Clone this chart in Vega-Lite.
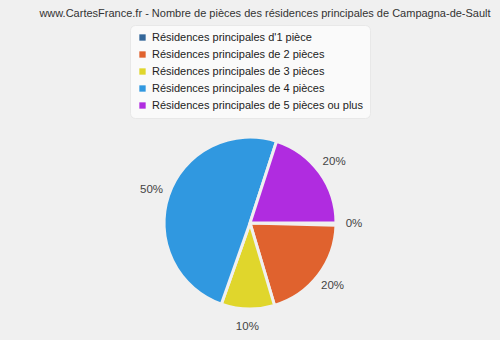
{
  "$schema": "https://vega.github.io/schema/vega-lite/v6.json",
  "width": 500,
  "height": 340,
  "autosize": {"type": "fit", "contains": "padding"},
  "padding": {"left": 5, "right": 5, "top": 7, "bottom": 16},
  "background": "#f0f0f0",
  "title": {
    "text": "www.CartesFrance.fr - Nombre de pièces des résidences principales de Campagna-de-Sault",
    "font": "Liberation Sans",
    "fontSize": 11,
    "fontWeight": "normal",
    "color": "#333333",
    "anchor": "middle",
    "dx": 15,
    "offset": 6
  },
  "data": {
    "values": [
      {"categorie": "Résidences principales d'1 pièce", "nombre": 1, "label": "0%"},
      {"categorie": "Résidences principales de 2 pièces", "nombre": 50, "label": "20%"},
      {"categorie": "Résidences principales de 3 pièces", "nombre": 25, "label": "10%"},
      {"categorie": "Résidences principales de 4 pièces", "nombre": 124, "label": "50%"},
      {"categorie": "Résidences principales de 5 pièces ou plus", "nombre": 50, "label": "20%"}
    ]
  },
  "encoding": {
    "theta": {"field": "nombre", "type": "quantitative", "stack": true, "scale": {"range": [1.5708, 7.854]}},
    "order": {"field": "categorie", "type": "nominal"},
    "color": {
      "field": "categorie",
      "type": "nominal",
      "scale": {
        "domain": ["Résidences principales d'1 pièce", "Résidences principales de 2 pièces", "Résidences principales de 3 pièces", "Résidences principales de 4 pièces", "Résidences principales de 5 pièces ou plus"],
        "range": ["#336699", "#e0622e", "#e0d62c", "#3098e0", "#b02ce0"]
      },
      "legend": {
        "title": null,
        "orient": "top",
        "direction": "vertical",
        "symbolType": "square",
        "symbolSize": 40,
        "symbolStrokeWidth": 0,
        "labelFont": "Liberation Sans",
        "labelFontSize": 11,
        "labelColor": "#222222",
        "labelLimit": 400,
        "rowPadding": 5,
        "fillColor": "#fafafa",
        "cornerRadius": 5,
        "padding": 7,
        "strokeColor": "#e8e8e8",
        "offset": 4
      }
    }
  },
  "layer": [
    {
      "mark": {"type": "arc", "outerRadius": 86, "stroke": "#f0f0f0", "strokeWidth": 3}
    },
    {
      "mark": {"type": "text", "radius": 104, "font": "Liberation Sans", "fontSize": 11.5, "fill": "#444444"},
      "encoding": {"text": {"field": "label", "type": "nominal"}}
    }
  ],
  "config": {
    "view": {"stroke": null},
    "legend": {"layout": {"top": {"anchor": "middle"}}}
  }
}
